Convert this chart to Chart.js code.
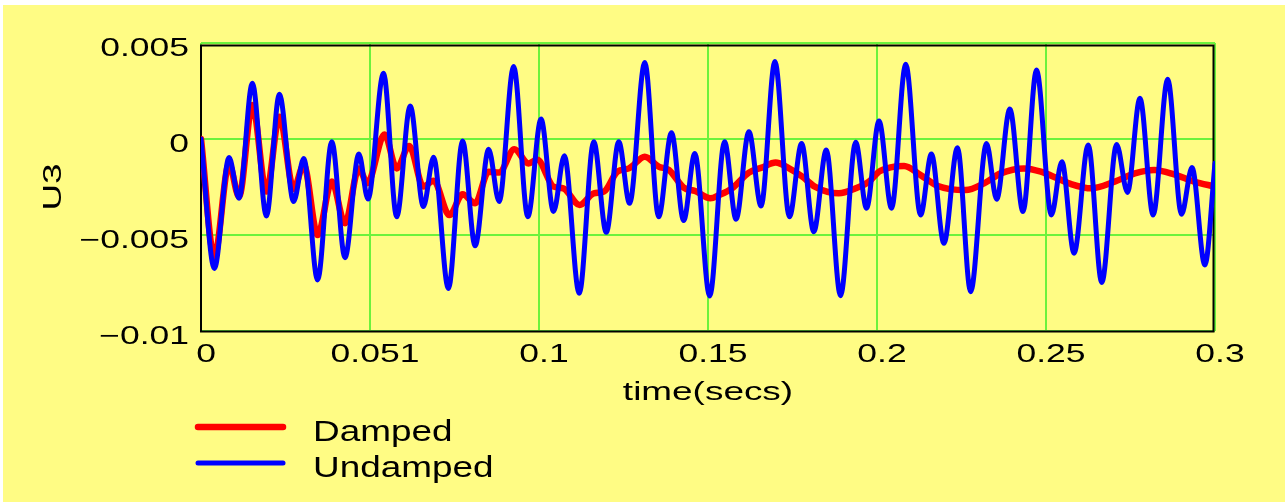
<!DOCTYPE html>
<html>
<head>
<meta charset="utf-8">
<title>U3 response</title>
<script src="https://cdn.jsdelivr.net/npm/chart.js@4.4.1/dist/chart.umd.min.js"></script>
<style>
  html, body { margin: 0; padding: 0; background: #ffffff; }
  canvas { display: block; }
</style>
</head>
<body>
<canvas id="u3Chart" width="1285" height="502"></canvas>
<script>
// time axis (s) and displacement U3 (m)
const undampedT = [0, 0.00395, 0.0083, 0.01125, 0.0152, 0.01935, 0.0232, 0.0274, 0.0304, 0.0345,
  0.0387, 0.0426, 0.0467, 0.0494, 0.0540, 0.0579, 0.0619, 0.0658, 0.0688, 0.0732,
  0.0774, 0.0811, 0.0851, 0.0882, 0.0925, 0.0967, 0.1006, 0.1043, 0.1075, 0.1119,
  0.1162, 0.1199, 0.1236, 0.1268, 0.1313, 0.1354, 0.1392, 0.1428, 0.1461, 0.1505,
  0.1549, 0.1583, 0.1621, 0.1657, 0.1698, 0.1741, 0.1777, 0.1813, 0.1850, 0.1892,
  0.1937, 0.1969, 0.2006, 0.2043, 0.2085, 0.2129, 0.2161, 0.2198, 0.2238, 0.2277,
  0.2324, 0.2354, 0.2393, 0.2432, 0.2472, 0.2516, 0.2547, 0.2583, 0.2625, 0.2665,
  0.2709, 0.2741, 0.2778, 0.2817, 0.2860, 0.2901, 0.2932, 0.2970, 0.3000];
const undampedU = [0, -0.00674, -0.00097, -0.00309, 0.00290, -0.00401, 0.00233, -0.00326, -0.00101, -0.00734,
  -0.00014, -0.00618, -0.00078, -0.00313, 0.00342, -0.00405, 0.00172, -0.00352, -0.00095, -0.00778,
  -0.00010, -0.00556, -0.00054, -0.00326, 0.00377, -0.00405, 0.00104, -0.00378, -0.00087, -0.00804,
  -0.00014, -0.00486, -0.00014, -0.00335, 0.00398, -0.00405, 0.00033, -0.00425, -0.00075, -0.00818,
  -0.00014, -0.00418, 0.00038, -0.00349, 0.00403, -0.00405, -0.00023, -0.00483, -0.00057, -0.00816,
  -0.00017, -0.00361, 0.00094, -0.00361, 0.00389, -0.00396, -0.00078, -0.00543, -0.00045, -0.00795,
  -0.00023, -0.00314, 0.00156, -0.00378, 0.00359, -0.00396, -0.00118, -0.00595, -0.00031, -0.00747,
  -0.00028, -0.00278, 0.00212, -0.00396, 0.00311, -0.00392, -0.00149, -0.00656, -0.00127];

const dampedT = [0, 0.00395, 0.0083, 0.01125, 0.0152, 0.01935, 0.0232, 0.0274, 0.0304, 0.0345,
  0.0387, 0.0426, 0.0467, 0.0492, 0.0543, 0.0579, 0.0616, 0.0658, 0.0688, 0.0735,
  0.0774, 0.0811, 0.0851, 0.0882, 0.0927, 0.0969, 0.0995, 0.1043, 0.1072, 0.1120,
  0.1162, 0.1192, 0.1232, 0.1266, 0.1313, 0.1354, 0.1384, 0.1428, 0.1462, 0.1507,
  0.1533, 0.1571, 0.1621, 0.1659, 0.1700, 0.1740, 0.1779, 0.1816, 0.1887, 0.1937,
  0.1976, 0.2006, 0.2040, 0.2080, 0.2129, 0.2178, 0.2262, 0.2317, 0.2366, 0.2435,
  0.2485, 0.2534, 0.2573, 0.2634, 0.2703, 0.2763, 0.2820, 0.2879, 0.2938, 0.3000];
const dampedU = [0, -0.00613, -0.00130, -0.00300, 0.00177, -0.00274, 0.00116, -0.00260, -0.00135, -0.00500,
  -0.00222, -0.00439, -0.00153, -0.00230, 0.00024, -0.00153, -0.00036, -0.00248, -0.00217, -0.00396,
  -0.00288, -0.00335, -0.00170, -0.00175, -0.00054, -0.00127, -0.00108, -0.00248, -0.00257, -0.00344,
  -0.00283, -0.00274, -0.00170, -0.00153, -0.00092, -0.00144, -0.00161, -0.00253, -0.00271, -0.00309,
  -0.00292, -0.00257, -0.00175, -0.00149, -0.00123, -0.00153, -0.00196, -0.00248, -0.00283, -0.00257,
  -0.00222, -0.00170, -0.00148, -0.00141, -0.00188, -0.00243, -0.00266, -0.00231, -0.00179, -0.00153,
  -0.00170, -0.00205, -0.00234, -0.00257, -0.00222, -0.00179, -0.00161, -0.00184, -0.00222, -0.00248];

const xTickValues = [0, 0.05, 0.1, 0.15, 0.2, 0.25, 0.3];
const xTickLabels = ['0', '0.051', '0.1', '0.15', '0.2', '0.25', '0.3'];
const yTickValues = [-0.01, -0.005, 0, 0.005];
const yTickLabels = ['\u22120.01', '\u22120.005', '0', '0.005'];

const FONT = '"Liberation Sans", Arial, Helvetica, sans-serif';
const YELLOW = '#fffc84';
const GRID_GREEN = '#6cf23c';

// the old plotting font is much wider than Arial, so glyphs get stretched sideways
let textScaleX = 1;
function wideText(ctx) {
  const fill = ctx.fillText;
  ctx.fillText = function (text, x, y, maxWidth) {
    if (textScaleX === 1) return fill.call(this, text, x, y, maxWidth);
    this.save();
    this.translate(x, y);
    this.scale(textScaleX, 1);
    fill.call(this, text, 0, 0);
    this.restore();
  };
}

const paperPlugin = {
  id: 'paper',
  beforeDraw(chart) {
    const ctx = chart.ctx;
    ctx.save();
    ctx.fillStyle = '#ffffff';
    ctx.fillRect(0, 0, chart.width, chart.height);
    ctx.fillStyle = YELLOW;
    ctx.fillRect(3, 5, chart.width - 3, chart.height - 5);
    ctx.restore();
    textScaleX = 1.42;
  }
};

// black box round the plot, drawn over the green grid
const framePlugin = {
  id: 'frame',
  beforeDatasetsDraw(chart) {
    const a = chart.chartArea;
    const ctx = chart.ctx;
    ctx.save();
    ctx.strokeStyle = '#000000';
    ctx.lineWidth = 2;
    ctx.strokeRect(a.left, a.top + 2.5, a.right - a.left - 1.5, a.bottom - a.top - 2);
    ctx.restore();
  }
};

// legend stacked under the axis: line sample then label
const stackedLegend = {
  id: 'stackedLegend',
  afterDraw(chart) {
    const ctx = chart.ctx;
    const x0 = chart.chartArea.left - 3;
    ctx.save();
    textScaleX = 1.23;
    chart.data.datasets.forEach((ds, i) => {
      const y = 427 + i * 36;
      ctx.strokeStyle = ds.borderColor;
      ctx.lineWidth = ds.borderWidth;
      ctx.lineCap = 'round';
      ctx.beginPath();
      ctx.moveTo(x0, y);
      ctx.lineTo(x0 + 85, y);
      ctx.stroke();
      ctx.fillStyle = '#000000';
      ctx.font = '30px ' + FONT;
      ctx.textAlign = 'left';
      ctx.textBaseline = 'alphabetic';
      ctx.fillText(ds.label, x0 + 115, y + 14);
    });
    textScaleX = 1;
    ctx.restore();
  }
};

const canvas = document.getElementById('u3Chart');
const ctx = canvas.getContext('2d');
wideText(ctx);

new Chart(ctx, {
  type: 'line',
  data: {
    datasets: [
      {
        label: 'Damped',
        data: dampedT.map((t, i) => ({ x: t, y: dampedU[i] })),
        borderColor: '#ff0000',
        borderWidth: 6.5,
        order: 1
      },
      {
        label: 'Undamped',
        data: undampedT.map((t, i) => ({ x: t, y: undampedU[i] })),
        borderColor: '#0000ff',
        borderWidth: 5,
        order: 0
      }
    ]
  },
  options: {
    responsive: false,
    animation: false,
    layout: { padding: { left: 0, top: 43, right: 70, bottom: 0 } },
    elements: {
      point: { radius: 0 },
      line: { cubicInterpolationMode: 'monotone', fill: false, borderCapStyle: 'round', borderJoinStyle: 'round' }
    },
    plugins: {
      legend: { display: false },
      tooltip: { enabled: false }
    },
    scales: {
      x: {
        type: 'linear',
        min: 0,
        max: 0.3,
        afterBuildTicks: (scale) => { scale.ticks = xTickValues.map(v => ({ value: v })); },
        afterFit: (scale) => { scale.height = 171; },
        grid: { color: GRID_GREEN, lineWidth: 2, drawTicks: false },
        border: { display: false },
        ticks: {
          autoSkip: false,
          maxRotation: 0,
          padding: 9,
          labelOffset: 5,
          color: '#000000',
          font: { family: FONT, size: 25 },
          callback: (value, index) => xTickLabels[index]
        },
        title: {
          display: true,
          text: 'time(secs)',
          color: '#000000',
          font: { family: FONT, size: 26 },
          padding: { top: 0, bottom: 94 }
        }
      },
      y: {
        min: -0.01,
        max: 0.005,
        afterBuildTicks: (scale) => { scale.ticks = yTickValues.map(v => ({ value: v })); },
        afterFit: (scale) => { scale.width = 201; },
        grid: { color: GRID_GREEN, lineWidth: 2, drawTicks: false },
        border: { display: false },
        ticks: {
          padding: 12,
          labelOffset: 6,
          color: '#000000',
          font: { family: FONT, size: 25 },
          callback: (value, index) => yTickLabels[index]
        },
        title: {
          display: true,
          text: 'U3',
          color: '#000000',
          font: { family: FONT, size: 26 },
          padding: { top: 38, bottom: 0 }
        }
      }
    }
  },
  plugins: [paperPlugin, framePlugin, stackedLegend]
});
</script>
</body>
</html>
